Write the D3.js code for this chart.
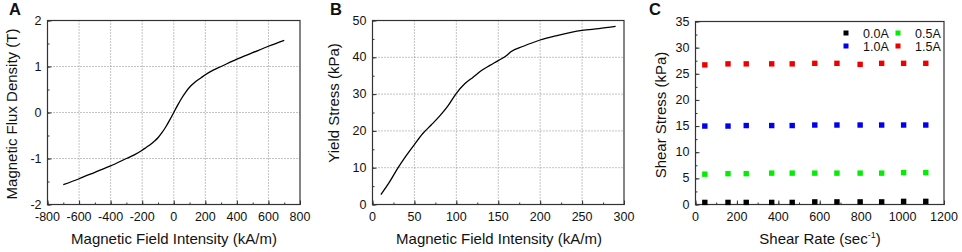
<!DOCTYPE html>
<html><head><meta charset="utf-8">
<script src="https://cdn.jsdelivr.net/npm/d3@7"></script>
<style>
body{margin:0;background:#fff;}
text{font-family:Arial,"Liberation Sans",sans-serif;fill:#111;}
</style></head><body>
<svg id="chart" width="962" height="252"></svg>
<script>
// Panel A: B-H curve
const aH = [-700,-600,-500,-400,-300,-250,-200,-175,-150,-125,-100,-75,-50,-25,0,25,50,75,100,125,150,175,200,250,300,400,500,600,700];
const aB = [-1.57,-1.44,-1.30,-1.16,-1.0,-0.92,-0.82,-0.76,-0.70,-0.63,-0.55,-0.44,-0.31,-0.16,0,0.16,0.31,0.44,0.55,0.63,0.70,0.76,0.82,0.92,1.0,1.16,1.30,1.44,1.57];
const aXTicks = [-800,-600,-400,-200,0,200,400,600,800];
const aYTicks = [-2,-1,0,1,2];
// Panel B: yield stress
const bH = [10,20,30,40,50,60,70,80,90,100,110,120,130,140,150,160,165,180,200,220,250,270,290];
const bY = [2.7,6,9.8,13.2,16.3,19.3,21.6,24,26.8,30.2,32.8,34.6,36.4,37.8,39.1,40.5,41.5,43,44.7,45.9,47.3,47.8,48.4];
const bXTicks = [0,50,100,150,200,250,300];
const bYTicks = [0,10,20,30,40,50];
// Panel C: shear stress vs shear rate
const cRate = [45,157,245,368,467,576,683,795,899,1005,1112];
const c00 = [0.4,0.4,0.4,0.4,0.4,0.5,0.5,0.5,0.5,0.6,0.6];
const c05 = [5.8,5.9,5.9,6.0,6.0,6.0,6.0,6.0,6.0,6.1,6.1];
const c10 = [15.0,15.0,15.1,15.1,15.1,15.2,15.2,15.2,15.2,15.2,15.2];
const c15 = [26.7,26.9,26.9,26.9,26.9,27.0,27.0,26.8,27.0,27.0,27.0];
const cSeries = ["0.0A","0.5A","1.0A","1.5A"];
const cColors = ["#000000","#00ee00","#0000ee","#ee0000"];
const cXTicks = [0,200,400,600,800,1000,1200];
const cYTicks = [0,5,10,15,20,25,30,35];

const svg = d3.select("#chart");
const AX = "#333";

function panel(o){
  const x = d3.scaleLinear().domain(o.xd).range([o.l,o.r]);
  const y = d3.scaleLinear().domain(o.yd).range([o.b,o.t]);
  const g = svg.append("g");
  if(o.grid){
    g.selectAll(".gx").data(o.xt.slice(1,-1)).join("line")
      .attr("x1",d=>x(d)).attr("x2",d=>x(d)).attr("y1",o.t).attr("y2",o.b)
      .attr("stroke","#888").attr("stroke-width",1).attr("stroke-dasharray","1,2");
    g.selectAll(".gy").data(o.yt.slice(1,-1)).join("line")
      .attr("y1",d=>y(d)).attr("y2",d=>y(d)).attr("x1",o.l).attr("x2",o.r)
      .attr("stroke","#888").attr("stroke-width",1).attr("stroke-dasharray","1,2");
  }
  const xa = d3.axisTop(x).tickValues(o.xt).tickSize(4).tickFormat("");
  const xm = d3.axisTop(x).tickValues(d3.range(o.xd[0],o.xd[1]+1e-9,o.xm)).tickSize(2).tickFormat("");
  const ya = d3.axisRight(y).tickValues(o.yt).tickSize(4).tickFormat("");
  const ym = d3.axisRight(y).tickValues(d3.range(o.yd[0],o.yd[1]+1e-9,o.ym)).tickSize(2).tickFormat("");
  [[xa,`translate(0,${o.b})`],[xm,`translate(0,${o.b})`],[ya,`translate(${o.l},0)`],[ym,`translate(${o.l},0)`]].forEach(([a,t])=>{
    const s=g.append("g").attr("transform",t).call(a);
    s.select(".domain").remove();
    s.selectAll("line").attr("stroke",AX);
  });
  g.append("rect").attr("x",o.l).attr("y",o.t).attr("width",o.r-o.l).attr("height",o.b-o.t)
    .attr("fill","none").attr("stroke",AX).attr("stroke-width",1.2);
  g.selectAll(".xl").data(o.xt).join("text").attr("x",d=>x(d)).attr("y",o.b+16)
    .attr("text-anchor","middle").attr("font-size",12.5).text(d=>d);
  g.selectAll(".yl").data(o.yt).join("text").attr("x",o.l-6).attr("y",d=>y(d)+4)
    .attr("text-anchor","end").attr("font-size",12.5).text(d=>d);
  g.append("text").attr("x",o.xtx).attr("y",244).attr("text-anchor","middle")
    .attr("font-size",15).html(o.xtitle);
  g.append("text").attr("transform",`translate(${o.ytx},${o.yty}) rotate(-90)`)
    .attr("text-anchor","middle").attr("font-size",15).text(o.ytitle);
  g.append("text").attr("x",o.lx).attr("y",15).attr("font-size",16.5).attr("font-weight","bold").text(o.letter);
  return {x,y,g};
}

const A = panel({l:47.5,r:300,t:20.5,b:204.5,xd:[-800,800],yd:[-2,2],xt:aXTicks,yt:aYTicks,xm:100,ym:0.5,grid:true,
  xtitle:"Magnetic Field Intensity (kA/m)",xtx:174,ytitle:"Magnetic Flux Density (T)",ytx:17,yty:114,letter:"A",lx:9});
A.g.append("path").datum(aH.map((h,i)=>[h,aB[i]]))
  .attr("d",d3.line().x(d=>A.x(d[0])).y(d=>A.y(d[1])).curve(d3.curveMonotoneX))
  .attr("fill","none").attr("stroke","#000").attr("stroke-width",1.3);

const B = panel({l:372.5,r:624,t:20.5,b:204.5,xd:[0,300],yd:[0,50],xt:bXTicks,yt:bYTicks,xm:25,ym:5,grid:true,
  xtitle:"Magnetic Field Intensity (kA/m)",xtx:499,ytitle:"Yield Stress (kPa)",ytx:339,yty:103,letter:"B",lx:330});
B.g.append("path").datum(bH.map((h,i)=>[h,bY[i]]))
  .attr("d",d3.line().x(d=>B.x(d[0])).y(d=>B.y(d[1])).curve(d3.curveMonotoneX))
  .attr("fill","none").attr("stroke","#000").attr("stroke-width",1.3);

const C = panel({l:695.5,r:944,t:21.5,b:204.5,xd:[0,1200],yd:[0,35],xt:cXTicks,yt:cYTicks,xm:100,ym:2.5,grid:false,
  xtitle:'Shear Rate (sec<tspan font-size="9" dy="-6">-1</tspan><tspan dy="6">)</tspan>',xtx:820,ytitle:"Shear Stress (kPa)",ytx:666,yty:115,letter:"C",lx:649});
[c00,c05,c10,c15].forEach((vals,si)=>{
  C.g.selectAll(null).data(vals.map((v,i)=>[cRate[i],v])).join("rect")
    .attr("x",d=>C.x(d[0])-2.7).attr("y",d=>C.y(d[1])-2.7).attr("width",5.4).attr("height",5.4)
    .attr("fill",cColors[si]);
});
const legPos = [[846,33],[898,33],[846,46],[898,46]];
cSeries.forEach((s,i)=>{
  const [lx,ly]=legPos[i];
  C.g.append("rect").attr("x",lx-2.5).attr("y",ly-2.5).attr("width",5).attr("height",5).attr("fill",cColors[i]);
  C.g.append("text").attr("x",lx+17).attr("y",ly+4.5).attr("font-size",12.5).text(s);
});
</script></body></html>
